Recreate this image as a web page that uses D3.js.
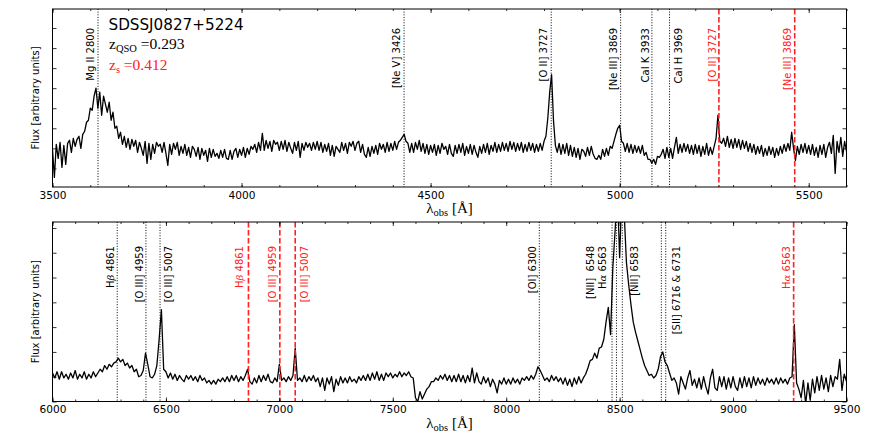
<!DOCTYPE html>
<html>
<head>
<meta charset="utf-8">
<script src="https://cdn.jsdelivr.net/npm/d3@7"></script>
<style>
body{margin:0;background:#fff}
</style>
</head>
<body>
<div id="chart"></div>
<script>
// redshifts
var zQSO = 0.293, zS = 0.412;

// top spectrum: 3500-5600 A, one value every 5 A
var topStart = 3500, topStep = 5;
var topFlux = [
0.95,-0.45,1.2,0.5,1.3,0.05,1.15,0.2,1.25,1.4,
0.8,1.5,1.1,1.45,1.6,1.0,1.7,1.85,2.3,2.4,
3.0,2.9,3.6,4.0,3.0,3.8,2.65,3.6,3.2,2.8,
3.3,2.4,2.8,2.0,2.1,1.5,1.8,1.2,1.6,1.05,
1.5,0.95,1.45,1.1,1.4,0.8,1.3,1.0,0.65,1.35,
0.25,1.25,0.45,1.2,0.75,1.3,1.1,1.2,0.8,1.3,
0.75,0.15,1.2,0.7,1.25,0.95,1.3,0.65,1.1,0.75,
1.2,0.65,1.05,0.55,1.1,0.95,0.6,1.05,0.45,1.0,
0.65,0.9,0.35,1.0,0.55,0.95,0.6,0.75,0.5,0.9,
0.55,0.95,0.5,0.45,0.9,0.45,0.85,1.0,0.55,0.95,
0.65,1.05,0.55,1.0,0.7,1.1,0.95,1.2,0.8,1.3,
0.9,1.75,0.9,1.4,1.0,1.35,0.85,1.4,1.2,1.3,
0.9,1.35,0.95,1.4,0.85,1.3,1.0,0.75,1.3,0.9,
1.35,0.55,1.25,0.9,1.3,1.05,1.25,0.9,1.3,0.95,
1.35,0.9,1.3,0.8,1.2,0.85,1.25,0.65,1.15,0.6,
1.1,0.95,0.8,1.3,0.9,1.25,0.75,1.3,1.1,1.35,
0.9,1.25,1.35,0.8,1.2,0.7,0.55,1.05,0.6,1.1,
0.75,1.15,0.7,1.25,0.95,1.2,0.8,1.3,0.85,1.25,
0.9,1.35,0.95,1.3,1.4,1.55,1.7,1.35,1.25,0.8,
1.25,0.8,1.3,0.95,1.4,0.85,1.25,0.75,1.2,0.7,
1.15,0.8,1.2,0.65,1.15,0.75,1.25,0.95,1.1,0.7,
1.2,0.75,0.6,1.15,0.75,1.2,0.8,1.25,0.65,1.1,
0.75,1.2,0.7,1.15,0.8,0.55,1.1,0.75,1.2,0.8,
1.25,0.7,1.15,0.85,1.3,0.8,1.2,0.85,1.3,0.9,
1.25,0.85,1.35,0.95,1.3,0.85,1.25,0.9,1.3,0.8,
1.2,0.85,1.3,0.9,1.25,0.8,1.2,0.85,1.25,0.9,
1.35,1.6,2.5,3.8,4.68,2.4,1.15,0.8,1.25,0.7,
1.2,0.75,1.25,0.65,1.15,0.6,1.05,0.55,1.0,0.45,
0.95,0.85,0.6,1.05,0.65,1.1,0.7,0.5,0.45,0.65,
0.45,0.95,0.6,1.0,0.65,1.1,1.0,1.35,1.7,2.0,
2.15,1.35,1.25,0.85,1.25,0.8,1.2,0.75,1.15,0.8,
1.1,0.75,1.15,0.65,0.8,0.45,0.45,0.25,0.45,0.2,
0.6,0.55,0.7,0.95,0.5,1.05,0.55,1.0,0.5,1.05,
1.55,0.75,1.2,0.8,1.25,0.85,1.2,0.75,1.15,0.7,
1.2,0.75,1.15,0.6,1.1,0.7,1.25,0.65,1.05,0.7,
1.1,1.5,2.65,1.35,1.25,1.5,1.1,1.6,1.05,1.45,
1.0,1.5,1.05,1.45,0.95,1.4,1.0,1.35,0.85,1.25,
0.8,1.2,0.7,1.1,0.75,1.15,0.6,1.0,0.65,1.1,
0.7,1.05,0.55,1.0,0.65,1.1,0.75,1.2,0.85,1.25,
0.9,1.8,1.0,0.4,1.1,0.7,1.2,0.8,1.25,0.75,
1.15,0.7,1.2,0.65,1.05,0.55,1.15,0.7,1.2,0.55,
1.05,1.3,0.75,1.65,-0.25,1.35,0.8,1.55,0.6,1.35,
0.85
];

// bottom spectrum: 6000-9500 A, one value every 10 A
var botStart = 6000, botStep = 10;
var botFlux = [
1.15,0.95,1.2,0.9,1.2,0.95,1.1,0.9,1.15,0.95,
1.25,0.9,1.1,0.95,1.2,0.9,1.1,0.95,1.2,1.0,
1.15,1.3,1.2,1.45,1.3,1.5,1.4,1.55,1.6,1.75,
1.6,1.7,1.45,1.55,1.35,1.45,1.2,1.3,1.0,1.05,
1.25,1.95,1.5,1.0,0.95,1.1,1.45,2.5,3.7,1.3,
1.2,0.95,1.15,0.9,1.1,0.85,1.05,0.9,0.8,1.05,
0.9,1.05,0.85,1.0,0.8,1.05,0.85,0.95,0.75,0.85,
0.7,0.85,0.7,0.9,0.8,0.95,0.8,1.0,0.8,1.05,
0.85,1.05,0.8,1.0,0.85,1.05,1.3,0.8,0.7,0.95,
0.75,1.05,0.8,1.05,0.85,1.1,0.8,0.75,0.95,0.8,
1.5,0.85,0.95,0.8,1.0,0.85,1.05,2.15,0.85,0.95,
0.8,1.05,0.8,1.0,0.85,1.05,0.8,0.95,0.6,0.95,
0.45,0.95,0.7,1.0,0.4,0.9,0.65,1.0,0.75,0.95,
0.75,1.0,0.8,0.9,0.75,1.0,0.85,1.05,0.85,1.1,
0.85,1.15,0.9,1.2,0.85,1.1,0.85,1.15,1.0,1.15,
0.95,1.1,1.0,1.2,1.0,1.15,1.05,1.2,1.0,0.95,
0.15,0.0,0.4,0.1,0.3,0.5,0.6,0.8,0.8,0.95,
0.85,1.05,0.9,1.1,0.85,1.05,0.8,1.05,0.8,1.1,
0.8,1.05,0.75,1.05,0.8,1.35,0.75,1.15,0.8,0.7,
1.0,0.75,0.95,0.6,0.9,0.7,0.35,0.85,0.7,0.95,
0.7,0.9,0.7,0.95,0.75,0.9,0.7,0.95,0.85,1.0,
0.85,1.05,0.9,1.1,1.4,1.25,1.05,0.85,0.95,0.8,
1.05,0.85,1.0,0.8,0.95,0.7,0.95,0.65,0.9,0.6,
0.95,0.7,1.0,0.75,0.95,1.1,1.35,1.65,1.7,1.95,
1.75,2.15,2.2,2.5,3.2,3.8,2.7,5.4,6.9,8.5,
5.8,8.5,7.6,5.6,4.7,3.9,3.2,2.8,2.45,2.1,
1.75,1.45,1.25,1.05,1.1,0.95,1.05,1.3,1.8,2.0,
1.6,1.45,1.15,0.85,0.95,0.75,0.3,1.0,0.75,0.5,
0.95,1.25,0.65,0.9,0.55,0.95,0.5,1.0,0.6,0.3,
0.95,1.3,0.55,0.45,1.0,0.6,1.0,0.5,0.95,0.55,
1.0,0.6,0.45,0.95,0.55,1.0,0.6,0.95,0.55,1.0,
0.65,0.95,0.7,0.9,0.65,0.95,0.75,0.9,0.7,0.95,
0.7,0.95,0.75,0.9,0.7,0.95,1.0,3.1,0.75,0.5,
0.15,0.85,-0.1,0.75,0.05,0.9,0.35,1.0,0.45,1.05,
0.5,0.95,0.4,1.05,0.6,1.0,0.9,1.7,0.45,1.1,
0.8
];

// axis ticks
var topMajor = [3500,4000,4500,5000,5500];
var botMajor = [6000,6500,7000,7500,8000,8500,9000,9500];
var yTickVals = [0,1,2,3,4,5,6,7];

// marked lines: rest wavelength(s), label, which redshift
var topLines = [
  {text:"Mg II 2800", rest:[2800], z:"qso"},
  {text:"[Ne V] 3426", rest:[3426], z:"qso"},
  {text:"[O II] 3727", rest:[3727], z:"qso"},
  {text:"[Ne III] 3869", rest:[3869], z:"qso"},
  {text:"CaI K 3933", rest:[3933], z:"qso"},
  {text:"CaI H 3969", rest:[3969], z:"qso"},
  {text:"[O II] 3727", rest:[3727], z:"s"},
  {text:"[Ne III] 3869", rest:[3869], z:"s"}
];
var botLines = [
  {text:"Hβ 4861", rest:[4861], z:"qso"},
  {text:"[O III] 4959", rest:[4959], z:"qso"},
  {text:"[O III] 5007", rest:[5007], z:"qso"},
  {text:"Hβ 4861", rest:[4861], z:"s"},
  {text:"[O III] 4959", rest:[4959], z:"s"},
  {text:"[O III] 5007", rest:[5007], z:"s"},
  {text:"[OI] 6300", rest:[6300], z:"qso"},
  {text:"[NII]  6548", rest:[6548], z:"qso"},
  {text:"Hα 6563", rest:[6563], z:"qso"},
  {text:"[NII] 6583", rest:[6583], z:"qso"},
  {text:"[SII] 6716 & 6731", rest:[6716,6731], z:"qso"},
  {text:"Hα 6563", rest:[6563], z:"s"}
];
// label offsets from their line (px), layout only
var topLabelDx = [-4,-4,-4,-3.5,-2.5,12,-3,-3.5];
var botLabelDx = [-3.5,-3.3,12.4,-5.5,-4,13,-3,-18,-10.7,16,14,-3.4];

var width = 872, height = 436;
var left = 52.5, right = 846.5;
var red = "#ff2020";
var svg = d3.select("#chart").append("svg").attr("width", width).attr("height", height)
  .attr("font-family", "'DejaVu Sans',sans-serif");

function drawPanel(p) {
  var x = d3.scaleLinear().domain(p.xDomain).range([left, right]);
  var y = d3.scaleLinear().domain(p.yDomain).range([p.bottom, p.top]);
  var g = svg.append("g");

  svg.append("clipPath").attr("id", "clip" + p.id)
    .append("rect").attr("x", left).attr("y", p.top)
    .attr("width", right - left).attr("height", p.bottom - p.top);

  var pts = p.flux.map(function(f, i){ return [p.start + i * p.step, f]; });
  g.append("path").datum(pts)
    .attr("clip-path", "url(#clip" + p.id + ")")
    .attr("fill", "none").attr("stroke", "#000").attr("stroke-width", 1.3)
    .attr("stroke-linejoin", "round")
    .attr("d", d3.line().x(function(d){ return x(d[0]); }).y(function(d){ return y(d[1]); }));

  // line markers
  p.lines.forEach(function(L, i) {
    var zz = L.z == "qso" ? zQSO : zS;
    var col = L.z == "qso" ? "#000" : red;
    L.rest.forEach(function(r) {
      var lx = x(r * (1 + zz));
      g.append("line").attr("x1", lx).attr("x2", lx).attr("y1", p.top).attr("y2", p.bottom)
        .attr("stroke", col)
        .attr("stroke-width", L.z == "qso" ? 1 : 1.6)
        .attr("stroke-dasharray", L.z == "qso" ? "1,1.65" : "5.5,2.5");
    });
    var tx = x(L.rest[L.rest.length - 1] * (1 + zz)) + p.dx[i];
    var t = g.append("text")
      .attr("transform", "translate(" + tx + "," + p.labelY + ") rotate(-90)")
      .attr("text-anchor", "end").attr("font-size", 10)
      .attr("fill", col);
    L.text.split(/([αβ])/).forEach(function(s) {
      if (s == "α" || s == "β")
        t.append("tspan").attr("font-family", "'DejaVu Serif',serif").attr("font-style", "italic").text(s);
      else if (s.length) t.append("tspan").style("white-space", "pre").text(s);
    });
  });

  // frame and ticks
  var minor = d3.range(p.xDomain[0], p.xDomain[1] + 1, 100);
  function styleAxis(a) {
    a.select(".domain").remove();
    a.selectAll("line").attr("stroke", "#000").attr("stroke-width", 0.8);
  }
  g.append("g").attr("transform", "translate(0," + p.bottom + ")")
    .call(d3.axisBottom(x).tickValues(minor).tickFormat("").tickSizeInner(-2).tickSizeOuter(0)).call(styleAxis);
  g.append("g").attr("transform", "translate(0," + p.top + ")")
    .call(d3.axisTop(x).tickValues(minor).tickFormat("").tickSizeInner(-2).tickSizeOuter(0)).call(styleAxis);
  var xb = g.append("g").attr("transform", "translate(0," + p.bottom + ")")
    .call(d3.axisBottom(x).tickValues(p.major).tickFormat(d3.format("d")).tickSizeInner(-4).tickSizeOuter(0)).call(styleAxis);
  xb.attr("font-family", null);
  xb.selectAll("text").attr("dy", null).attr("y", 11.5).attr("font-size", 10.6).attr("fill", "#000");
  g.append("g").attr("transform", "translate(0," + p.top + ")")
    .call(d3.axisTop(x).tickValues(p.major).tickFormat("").tickSizeInner(-4).tickSizeOuter(0)).call(styleAxis);
  g.append("g").attr("transform", "translate(" + left + ",0)")
    .call(d3.axisLeft(y).tickValues(yTickVals).tickFormat("").tickSizeInner(-4).tickSizeOuter(0)).call(styleAxis);
  g.append("g").attr("transform", "translate(" + right + ",0)")
    .call(d3.axisRight(y).tickValues(yTickVals).tickFormat("").tickSizeInner(-4).tickSizeOuter(0)).call(styleAxis);

  g.append("rect").attr("x", left).attr("y", p.top).attr("width", right - left).attr("height", p.bottom - p.top)
    .attr("fill", "none").attr("stroke", "#000").attr("stroke-width", 1);

  // axis titles
  g.append("text").attr("transform", "translate(39," + (p.top + p.bottom) / 2 + ") rotate(-90)")
    .attr("text-anchor", "middle").attr("font-size", 10).text("Flux [arbitrary units]");
  var xl = g.append("text").attr("x", (left + right) / 2).attr("y", p.bottom + 26)
    .attr("text-anchor", "middle").attr("font-family", "'Liberation Serif',serif").attr("font-size", 15);
  xl.append("tspan").text("λ");
  xl.append("tspan").attr("font-size", 10.5).attr("dy", 3).text("obs");
  xl.append("tspan").attr("dy", -3).style("white-space", "pre").text(" [Å]");
}

drawPanel({id: "a", xDomain: [3500, 5600], yDomain: [-0.93, 7.95], top: 9, bottom: 187,
  flux: topFlux, start: topStart, step: topStep, major: topMajor, lines: topLines, dx: topLabelDx, labelY: 28});
drawPanel({id: "b", xDomain: [6000, 9500], yDomain: [0, 7.24], top: 222, bottom: 401.5,
  flux: botFlux, start: botStart, step: botStep, major: botMajor, lines: botLines, dx: botLabelDx, labelY: 246});

// object name and redshifts
svg.append("text").attr("x", 108.5).attr("y", 29.5).attr("font-size", 15.2).text("SDSSJ0827+5224");
var zq = svg.append("text").attr("x", 109).attr("y", 48.5)
  .attr("font-family", "'Liberation Serif',serif").attr("font-size", 15.5);
zq.append("tspan").text("z");
zq.append("tspan").attr("font-size", 10.5).attr("dy", 3).text("QSO");
zq.append("tspan").attr("dy", -3).style("white-space", "pre").text(" =0.293");
var zs = svg.append("text").attr("x", 109).attr("y", 70)
  .attr("font-family", "'Liberation Serif',serif").attr("font-size", 15.5).attr("fill", red);
zs.append("tspan").text("z");
zs.append("tspan").attr("font-size", 10.5).attr("dy", 3).text("s");
zs.append("tspan").attr("dy", -3).style("white-space", "pre").text(" =0.412");
</script>
</body>
</html>
